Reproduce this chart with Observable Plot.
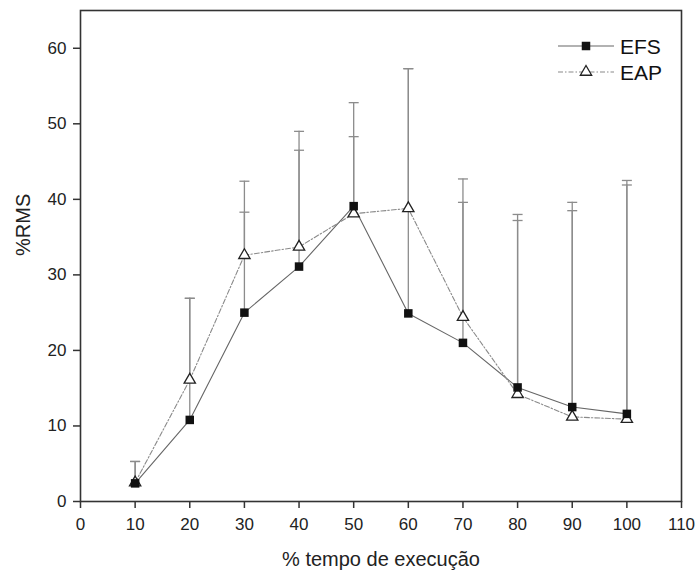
<!DOCTYPE html>
<html>
<head>
<meta charset="utf-8">
<script src="https://cdn.jsdelivr.net/npm/d3@7"></script>
<script src="https://cdn.jsdelivr.net/npm/@observablehq/plot@0.6"></script>
<style>
  html, body { margin: 0; padding: 0; background: #fff; }
</style>
</head>
<body>
<div id="chart"></div>
<script>
const xValues = [10, 20, 30, 40, 50, 60, 70, 80, 90, 100];
const efsMean = [2.4, 10.8, 25.0, 31.1, 39.1, 24.9, 21.0, 15.1, 12.5, 11.6];
const eapMean = [2.5, 16.1, 32.6, 33.7, 38.1, 38.8, 24.4, 14.2, 11.2, 10.9];
const efsUpper = [5.3, 26.9, 38.3, 46.5, 52.8, 57.3, 39.6, 38.0, 39.6, 42.5];
const eapUpper = [5.3, 26.9, 42.4, 49.0, 48.3, 57.3, 42.7, 37.2, 38.5, 41.9];
const xTicks = [0, 10, 20, 30, 40, 50, 60, 70, 80, 90, 100, 110];
const yTicks = [0, 10, 20, 30, 40, 50, 60];
const seriesNames = ["EFS", "EAP"];
const xTitle = "% tempo de execução";
const yTitle = "%RMS";

const efsRows = xValues.map((x, i) => ({x, mean: efsMean[i], upper: efsUpper[i], series: "EFS"}));
const eapRows = xValues.map((x, i) => ({x, mean: eapMean[i], upper: eapUpper[i], series: "EAP"}));
const allRows = efsRows.concat(eapRows);

const capSymbol = {
  draw(context, size) {
    context.moveTo(-5, 0);
    context.lineTo(5, 0);
  }
};

const font = "'Liberation Sans', Arial, sans-serif";

const svg = Plot.plot({
  width: 697,
  height: 574,
  marginLeft: 80,
  marginRight: 16,
  marginTop: 10,
  marginBottom: 73,
  style: {fontFamily: font, fontSize: "16px", color: "#222", background: "#fff"},
  x: {domain: [0, 110]},
  y: {domain: [0, 65]},
  marks: [
    Plot.ruleX(allRows, {x: "x", y1: "mean", y2: "upper", stroke: "#8c8c8c", strokeWidth: 1.3}),
    Plot.dot(allRows, {x: "x", y: "upper", symbol: capSymbol, r: 3, stroke: "#8c8c8c", strokeWidth: 1.3, fill: "none"}),
    Plot.line(efsRows, {x: "x", y: "mean", stroke: "#666", strokeWidth: 1.1}),
    Plot.line(eapRows, {x: "x", y: "mean", stroke: "#8a8a8a", strokeWidth: 1.1, strokeDasharray: "5,2,1.5,2"}),
    Plot.dot(eapRows, {x: "x", y: "mean", symbol: "triangle", r: 4.2, fill: "white", stroke: "#222", strokeWidth: 1.3}),
    Plot.dot(efsRows, {x: "x", y: "mean", symbol: "square", r: 4.8, fill: "#111", stroke: "none"}),
    Plot.frame({stroke: "#333", strokeWidth: 1.6}),
    Plot.axisX({ticks: xTicks, tickSize: 7, tickPadding: 9, label: null, stroke: "#333", strokeWidth: 1.5, fontSize: 17, fill: "#222"}),
    Plot.axisY({ticks: yTicks, tickSize: 7, tickPadding: 7, label: null, stroke: "#333", strokeWidth: 1.5, fontSize: 17, fill: "#222"}),
    Plot.text([xTitle], {frameAnchor: "bottom", dy: 64, fontSize: 20, fill: "#222"}),
    Plot.text([yTitle], {frameAnchor: "left", rotate: -90, dx: -57, fontSize: 20, fill: "#222"})
  ]
});

// legend (top-right, inside the frame)
const s = d3.select(svg);
const lg = s.append("g").attr("font-family", font).attr("font-size", 21).attr("fill", "#111").attr("text-anchor", "start");
const legendItems = [
  {name: seriesNames[0], y: 46, dash: null, color: "#666"},
  {name: seriesNames[1], y: 72, dash: "5,2,1.5,2", color: "#8a8a8a"}
];
legendItems.forEach((d, i) => {
  const line = lg.append("line").attr("x1", 558).attr("x2", 614).attr("y1", d.y).attr("y2", d.y)
    .attr("stroke", d.color).attr("stroke-width", 1.1);
  if (d.dash) line.attr("stroke-dasharray", d.dash);
  if (i === 0) {
    lg.append("path").attr("d", d3.symbol(d3.symbolSquare, Math.PI * 4.8 * 4.8)()).attr("transform", `translate(586,${d.y})`).attr("fill", "#111");
  } else {
    lg.append("path").attr("d", d3.symbol(d3.symbolTriangle, Math.PI * 4.2 * 4.2)()).attr("transform", `translate(586,${d.y})`)
      .attr("fill", "white").attr("stroke", "#222").attr("stroke-width", 1.3);
  }
  lg.append("text").attr("x", 620).attr("y", d.y).attr("dy", "0.36em").attr("text-anchor", "start").text(d.name);
});

document.getElementById("chart").appendChild(svg);
</script>
</body>
</html>
